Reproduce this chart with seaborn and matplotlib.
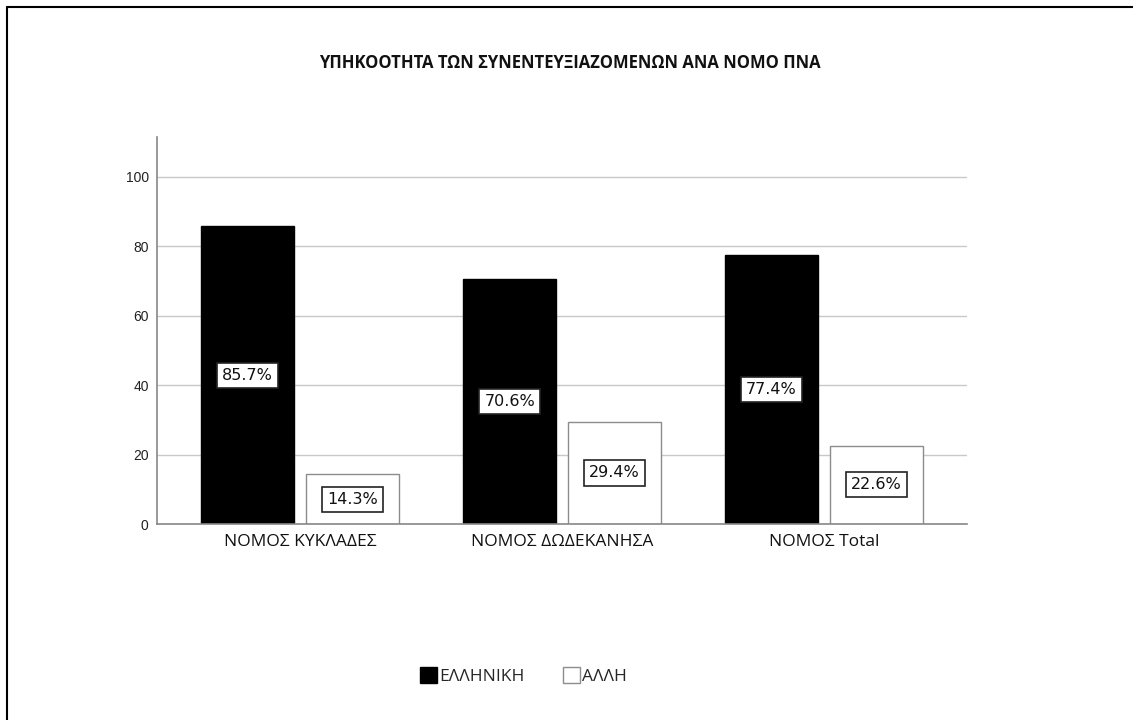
import matplotlib
matplotlib.use("Agg")
import matplotlib.pyplot as plt
from matplotlib.lines import Line2D
from matplotlib.patches import Patch
import seaborn as sns
import pandas as pd

categories = ["ΝΟΜΟΣ ΚΥΚΛΑΔΕΣ", "ΝΟΜΟΣ ΔΩΔΕΚΑΝΗΣΑ", "ΝΟΜΟΣ Total"]
groups = ["ΕΛΛΗΝΙΚΗ", "ΑΛΛΗ"]
greek_vals = [85.7, 70.6, 77.4]
other_vals = [14.3, 29.4, 22.6]
y_ticks = [0, 20, 40, 60, 80, 100]
title = "ΥΠΗΚΟΟΤΗΤΑ ΤΩΝ ΣΥΝΕΝΤΕΥΞΙΑΖΟΜΕΝΩΝ ΑΝΑ ΝΟΜΟ ΠΝΑ"

df = pd.DataFrame({
    "cat": categories * 2,
    "grp": [groups[0]] * 3 + [groups[1]] * 3,
    "val": greek_vals + other_vals,
})

sns.set_theme(style="white")
plt.rcParams["font.family"] = ["Open Sans", "DejaVu Sans"]

fig = plt.figure(figsize=(11.33, 7.2), dpi=100)
ax = fig.add_axes([0.1386, 0.2722, 0.8535 - 0.1386, 0.8097 - 0.2722])

palette = {groups[0]: "#000000", groups[1]: "#ffffff"}
sns.barplot(data=df, x="cat", y="val", hue="grp", hue_order=groups,
            order=categories, palette=palette, width=0.8, gap=0.11,
            ax=ax, legend=False, errorbar=None, saturation=1)

for i, cont in enumerate(ax.containers):
    for bar in cont:
        if i == 0:
            bar.set_edgecolor("#000000")
        else:
            bar.set_edgecolor("#8c8c8c")
        bar.set_linewidth(1.0)
    for bar in cont:
        h = bar.get_height()
        ax.text(bar.get_x() + bar.get_width() / 2, h / 2, f"{h:.1f}%",
                ha="center", va="center", fontsize=11.5, color="#111111",
                family=["DejaVu Sans"],
                bbox=dict(boxstyle="square,pad=0.32", facecolor="white",
                          edgecolor="#222222", linewidth=1.2))

ax.set_ylim(0, 111.4)
ax.set_xlim(-0.546, 2.546)
ax.set_yticks(y_ticks)
ax.set_yticklabels([str(t) for t in y_ticks], family=["Liberation Sans"], fontsize=10, color="#222222")
ax.set_xticks(range(len(categories)))
ax.set_xticklabels(categories, fontsize=12.5, color="#111111")
ax.tick_params(axis="both", length=0, pad=6)
ax.tick_params(axis="x", pad=7)
ax.set_xlabel("")
ax.set_ylabel("")
ax.yaxis.grid(True, color="#c8c8c8", linewidth=1.0)
ax.set_axisbelow(True)
for s in ["top", "right"]:
    ax.spines[s].set_visible(False)
for s in ["left", "bottom"]:
    ax.spines[s].set_visible(True)
    ax.spines[s].set_color("#888888")
    ax.spines[s].set_linewidth(1.2)

fig.text(0.503, 1 - 63 / 720, title, ha="center", va="center",
         fontsize=12, fontweight="bold", color="#111111")

handles = [Patch(facecolor="#000000", edgecolor="#000000", label=groups[0]),
           Patch(facecolor="#ffffff", edgecolor="#8c8c8c", label=groups[1])]
fig.legend(handles=handles, loc="center", bbox_to_anchor=(0.462, 1 - 676 / 720),
           ncol=2, frameon=False, fontsize=12.5, handlelength=1.0, handleheight=1.0,
           handletextpad=0.12, columnspacing=2.2)

# outer frame (left and top only)
fig.add_artist(Line2D([6.5 / 1133, 6.5 / 1133], [0, 1 - 7 / 720], transform=fig.transFigure,
                      color="black", linewidth=1.5))
fig.add_artist(Line2D([6.5 / 1133, 1], [1 - 7 / 720, 1 - 7 / 720], transform=fig.transFigure,
                      color="black", linewidth=1.5))

fig.savefig("out.png", dpi=100, facecolor="white")
